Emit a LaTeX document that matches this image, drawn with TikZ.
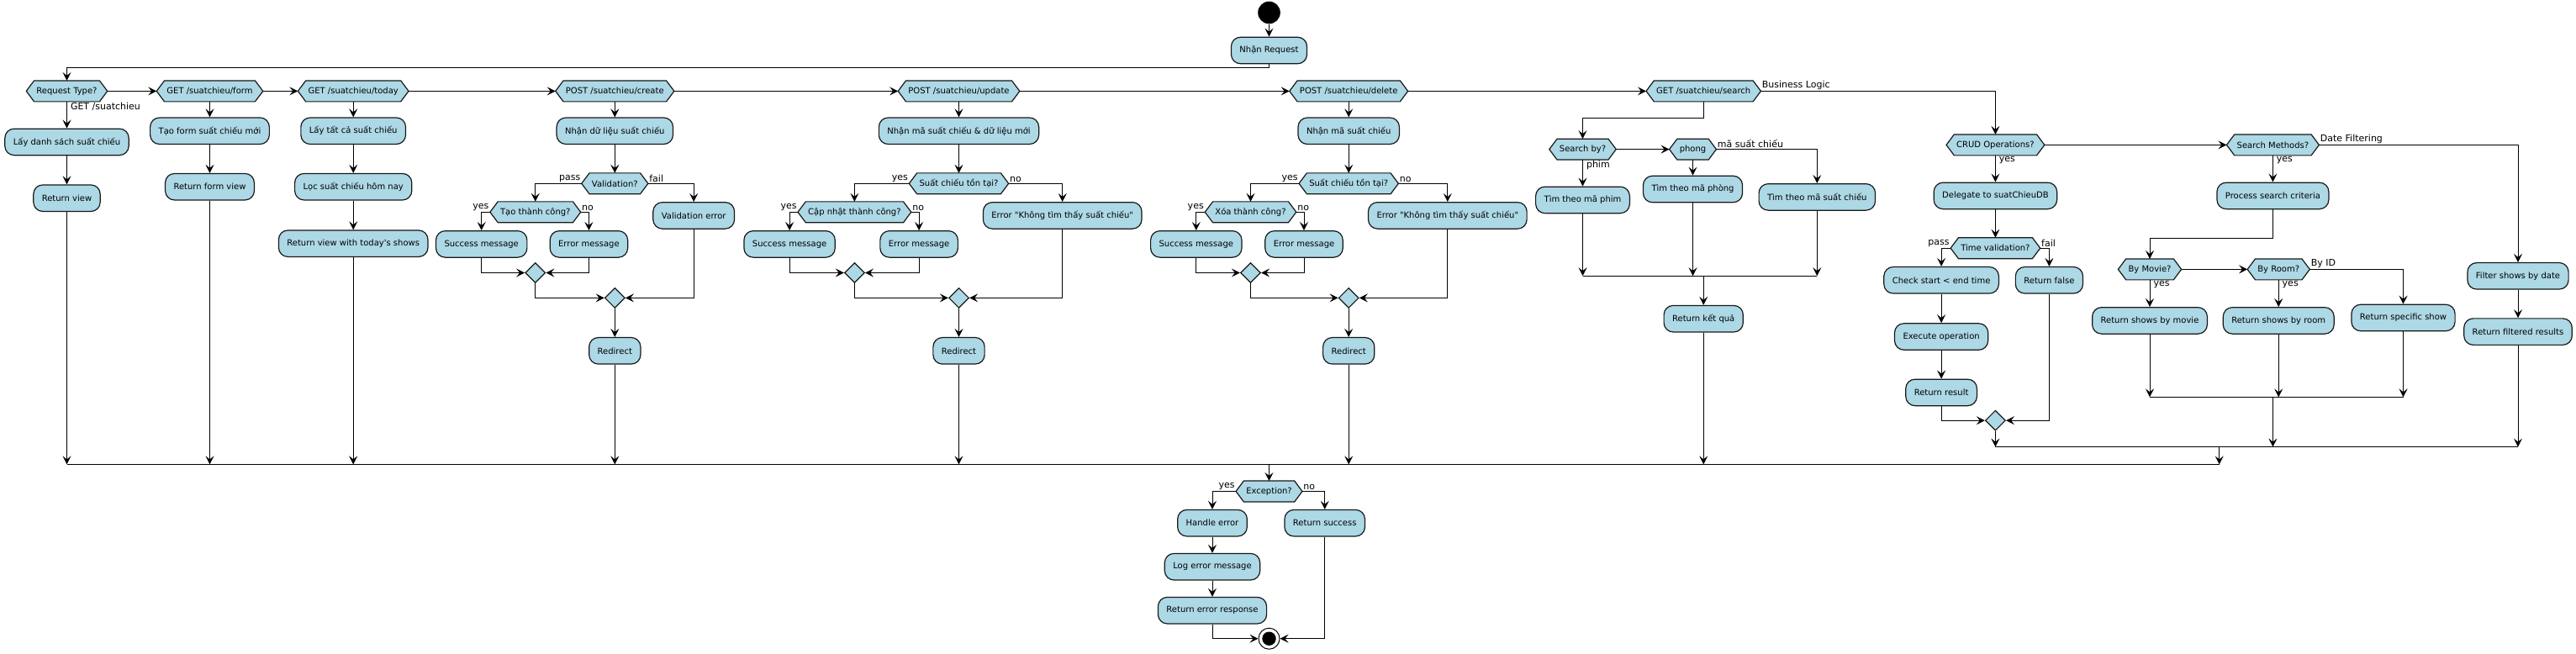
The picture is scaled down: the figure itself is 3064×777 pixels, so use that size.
\documentclass[tikz,border=0pt]{standalone}
\usepackage{fontspec}
\setmainfont{DejaVu Sans}[Ligatures=TeXOff]
\usetikzlibrary{arrows.meta,shapes.geometric,backgrounds,calc}
\definecolor{boxfill}{HTML}{ADD8E6}
\definecolor{boxline}{HTML}{181818}
\tikzset{
 act/.style={draw=boxline, fill=boxfill, line width=1.2pt, rounded corners=11pt, inner xsep=10pt, inner ysep=0pt, minimum height=31.5pt, font=\fontsize{10}{12}\selectfont},
 hextxt/.style={inner xsep=12pt, inner ysep=0pt, minimum height=24.5pt, font=\fontsize{10}{12}\selectfont},
 hexline/.style={draw=boxline, fill=boxfill, line width=1.2pt},
 mrg/.style={diamond, aspect=1, draw=boxline, fill=boxfill, line width=1.2pt, minimum width=24pt, minimum height=24pt, inner sep=0pt},
 arr/.style={draw=black, line width=1pt, -{Stealth[length=10pt,width=10pt,inset=4pt]}},
 ln/.style={draw=black, line width=1pt},
 lbl/.style={font=\fontsize{11}{13}\selectfont, inner sep=1pt},
}
\newcommand\hexn[4]{%
 \node[hextxt] (#1) at (#2,#3) {#4};
 \begin{scope}[on background layer]
 \path[hexline] (#1.west) -- ([xshift=9.3pt]#1.north west) -- ([xshift=-9.3pt]#1.north east) -- (#1.east) -- ([xshift=-9.3pt]#1.south east) -- ([xshift=9.3pt]#1.south west) -- cycle;
 \end{scope}}
\begin{document}
\begin{tikzpicture}[x=1pt,y=-1pt]
\useasboundingbox (0,0) rectangle (3064,777);
% start
\node[circle, fill=black, minimum size=26.6pt, inner sep=0pt] (st) at (1509.5,15) {};
\node[act] (nr) at (1509.5,60) {Nhận Request};
% hex row
\hexn{rt}{79.5}{108.4}{Request Type?}
\hexn{gf}{249.5}{108.4}{GET /suatchieu/form}
\hexn{gt}{420.2}{108.4}{GET /suatchieu/today}
\hexn{pc}{731.3}{108.4}{POST /suatchieu/create}
\hexn{pu}{1140.5}{108.4}{POST /suatchieu/update}
\hexn{pd}{1604.2}{108.4}{POST /suatchieu/delete}
\hexn{gs}{2026.2}{108.4}{GET /suatchieu/search}
% col A
\node[act] (lds) at (79.5,168.9) {Lấy danh sách suất chiếu};
\node[act] (rv) at (79.5,235.7) {Return view};
% col B
\node[act] (tf) at (249.5,155.75) {Tạo form suất chiếu mới};
\node[act] (rfv) at (249.5,222.2) {Return form view};
% col C
\node[act] (lt) at (420.2,155.75) {Lấy tất cả suất chiếu};
\node[act] (loc) at (420.2,222.2) {Lọc suất chiếu hôm nay};
\node[act] (rvt) at (420.2,289.7) {Return view with today's shows};
% col D
\node[act] (nd) at (731.3,155.75) {Nhận dữ liệu suất chiếu};
\hexn{val}{731.3}{218.3}{Validation?}
\hexn{ttc}{636.8}{252.3}{Tạo thành công?}
\node[act] (sm1) at (572.7,290.4) {Success message};
\node[act] (em1) at (700.4,290.4) {Error message};
\node[act] (ve) at (825.2,256.4) {Validation error};
\node[mrg] (sd1) at (636.8,324.5) {};
\node[mrg] (bd1) at (731.3,354.4) {};
\node[act] (red1) at (731.3,417.3) {Redirect};
% col E
\node[act] (nm2) at (1140.5,155.75) {Nhận mã suất chiếu \& dữ liệu mới};
\hexn{sct1}{1140.5}{218.3}{Suất chiếu tồn tại?}
\hexn{cn}{1016.4}{252.3}{Cập nhật thành công?}
\node[act] (sm2) at (939.1,290.4) {Success message};
\node[act] (em2) at (1093.1,290.4) {Error message};
\node[act] (ek1) at (1263.7,256.4) {Error "Không tìm thấy suất chiếu"};
\node[mrg] (sd2) at (1016.4,324.5) {};
\node[mrg] (bd2) at (1140.5,354.4) {};
\node[act] (red2) at (1140.5,417.3) {Redirect};
% col F
\node[act] (nm3) at (1604.2,155.75) {Nhận mã suất chiếu};
\hexn{sct2}{1604.2}{218.3}{Suất chiếu tồn tại?}
\hexn{xoa}{1487.5}{252.3}{Xóa thành công?}
\node[act] (sm3) at (1422.8,290.4) {Success message};
\node[act] (em3) at (1551,290.4) {Error message};
\node[act] (ek2) at (1721.8,256.4) {Error "Không tìm thấy suất chiếu"};
\node[mrg] (sd3) at (1487.5,324.5) {};
\node[mrg] (bd3) at (1604.2,354.4) {};
\node[act] (red3) at (1604.2,417.3) {Redirect};
% col G
\hexn{sb}{1882.5}{177.6}{Search by?}
\hexn{ph}{2013.5}{177.6}{phong}
\node[act] (tmp) at (1882.5,237.9) {Tìm theo mã phim};
\node[act] (tmph) at (2013.5,225) {Tìm theo mã phòng};
\node[act] (tmsc) at (2161.3,234.4) {Tìm theo mã suất chiếu};
\node[act] (rkq) at (2026.2,379.2) {Return kết quả};
% col H
\hexn{crud}{2373.4}{172.4}{CRUD Operations?}
\node[act] (del) at (2373.4,232.9) {Delegate to suatChieuDB};
\hexn{tv}{2373.4}{295.2}{Time validation?}
\node[act] (csa) at (2309.1,333.3) {Check start < end time};
\node[act] (exe) at (2309.1,400.5) {Execute operation};
\node[act] (rr) at (2309.1,466.9) {Return result};
\node[act] (rf) at (2437.4,333.3) {Return false};
\node[mrg] (sd4) at (2373.4,500.2) {};
% col I
\hexn{smh}{2703.4}{172.4}{Search Methods?}
\node[act] (psc) at (2703.4,232.9) {Process search criteria};
\hexn{bm}{2557}{320.4}{By Movie?}
\hexn{br}{2710.2}{320.4}{By Room?}
\node[act] (rsm) at (2557,381.4) {Return shows by movie};
\node[act] (rsr) at (2710.2,381.4) {Return shows by room};
\node[act] (rss) at (2858.5,378) {Return specific show};
\node[act] (fsd) at (2995,328.3) {Filter shows by date};
\node[act] (rfr) at (2995,394.6) {Return filtered results};
% bottom
\hexn{exc}{1509.5}{584.5}{Exception?}
\node[act] (he) at (1442,622.2) {Handle error};
\node[act] (lem) at (1442,674.2) {Log error message};
\node[act] (rer) at (1442,726.2) {Return error response};
\node[act] (rs) at (1575.7,622.2) {Return success};
\node[circle, draw=black, fill=white, line width=1pt, minimum size=25pt, inner sep=0pt] (en) at (1509.5,759.7) {};
\fill[black] (en.center) circle[radius=8.2pt];
% coordinates
\coordinate (tb) at (1509.5,80.5);
\coordinate (gsk) at (2026.2,140.2);
\coordinate (psk) at (2703.4,283.8);
\coordinate (m1) at (79.5,552.4);
\coordinate (m2) at (249.5,552.4);
\coordinate (m3) at (420.2,552.4);
\coordinate (m4) at (731.3,552.4);
\coordinate (m5) at (1140.5,552.4);
\coordinate (m6) at (1604.2,552.4);
\coordinate (m7) at (2026.2,552.4);
\coordinate (m8) at (2639.7,552.4);
\coordinate (mx) at (1509.5,552.4);
\coordinate (s1) at (1882.5,328.2);
\coordinate (s2) at (2013.5,328.2);
\coordinate (s3) at (2161.3,328.2);
\coordinate (s0) at (2026.2,328.2);
\coordinate (b1) at (2557,472.4);
\coordinate (b2) at (2710.2,472.4);
\coordinate (b3) at (2858.5,472.4);
\coordinate (b0) at (2703.4,472.4);
\coordinate (c1) at (2373.4,531.6);
\coordinate (c2) at (2703.4,531.6);
\coordinate (c3) at (2995,531.6);
\coordinate (c0) at (2639.7,531.6);
% edges top
\draw[arr] (st) -- (nr);
\draw[arr] (nr.south) -- (tb) -| (rt.north);
\draw[arr] (rt.east) -- (gf.west);
\draw[arr] (gf.east) -- (gt.west);
\draw[arr] (gt.east) -- (pc.west);
\draw[arr] (pc.east) -- (pu.west);
\draw[arr] (pu.east) -- (pd.west);
\draw[arr] (pd.east) -- (gs.west);
\draw[arr] (gs.east) -| (crud.north) node[pos=0, lbl, anchor=south west] {Business Logic};
% col A
\draw[arr] (rt.south) -- (lds.north) node[pos=0, lbl, anchor=north west, xshift=3pt] {GET /suatchieu};
\draw[arr] (lds) -- (rv);
\draw[arr] (rv) -- (m1);
% col B
\draw[arr] (gf) -- (tf);
\draw[arr] (tf) -- (rfv);
\draw[arr] (rfv) -- (m2);
% col C
\draw[arr] (gt) -- (lt);
\draw[arr] (lt) -- (loc);
\draw[arr] (loc) -- (rvt);
\draw[arr] (rvt) -- (m3);
% col D
\draw[arr] (pc) -- (nd);
\draw[arr] (nd) -- (val);
\draw[arr] (val.west) -| (ttc.north) node[pos=0, lbl, anchor=south east] {pass};
\draw[arr] (val.east) -| (ve.north) node[pos=0, lbl, anchor=south west] {fail};
\draw[arr] (ttc.west) -| (sm1.north) node[pos=0, lbl, anchor=south east] {yes};
\draw[arr] (ttc.east) -| (em1.north) node[pos=0, lbl, anchor=south west] {no};
\draw[arr] (sm1.south) |- (sd1.west);
\draw[arr] (em1.south) |- (sd1.east);
\draw[arr] (sd1.south) |- (bd1.west);
\draw[arr] (ve.south) |- (bd1.east);
\draw[arr] (bd1) -- (red1);
\draw[arr] (red1) -- (m4);
% col E
\draw[arr] (pu) -- (nm2);
\draw[arr] (nm2) -- (sct1);
\draw[arr] (sct1.west) -| (cn.north) node[pos=0, lbl, anchor=south east] {yes};
\draw[arr] (sct1.east) -| (ek1.north) node[pos=0, lbl, anchor=south west] {no};
\draw[arr] (cn.west) -| (sm2.north) node[pos=0, lbl, anchor=south east] {yes};
\draw[arr] (cn.east) -| (em2.north) node[pos=0, lbl, anchor=south west] {no};
\draw[arr] (sm2.south) |- (sd2.west);
\draw[arr] (em2.south) |- (sd2.east);
\draw[arr] (sd2.south) |- (bd2.west);
\draw[arr] (ek1.south) |- (bd2.east);
\draw[arr] (bd2) -- (red2);
\draw[arr] (red2) -- (m5);
% col F
\draw[arr] (pd) -- (nm3);
\draw[arr] (nm3) -- (sct2);
\draw[arr] (sct2.west) -| (xoa.north) node[pos=0, lbl, anchor=south east] {yes};
\draw[arr] (sct2.east) -| (ek2.north) node[pos=0, lbl, anchor=south west] {no};
\draw[arr] (xoa.west) -| (sm3.north) node[pos=0, lbl, anchor=south east] {yes};
\draw[arr] (xoa.east) -| (em3.north) node[pos=0, lbl, anchor=south west] {no};
\draw[arr] (sm3.south) |- (sd3.west);
\draw[arr] (em3.south) |- (sd3.east);
\draw[arr] (sd3.south) |- (bd3.west);
\draw[arr] (ek2.south) |- (bd3.east);
\draw[arr] (bd3) -- (red3);
\draw[arr] (red3) -- (m6);
% col G
\draw[arr] (gs.south) -- (gsk) -| (sb.north);
\draw[arr] (sb.south) -- (tmp.north) node[pos=0, lbl, anchor=north west, xshift=3pt] {phim};
\draw[arr] (sb.east) -- (ph.west);
\draw[arr] (ph) -- (tmph);
\draw[arr] (ph.east) -| (tmsc.north) node[pos=0, lbl, anchor=south west] {mã suất chiếu};
\draw[arr] (tmp) -- (s1);
\draw[arr] (tmph) -- (s2);
\draw[arr] (tmsc) -- (s3);
\draw[ln] (s1) -- (s3);
\draw[arr] (s0) -- (rkq);
\draw[arr] (rkq) -- (m7);
% col H
\draw[arr] (crud.south) -- (del.north) node[pos=0, lbl, anchor=north west, xshift=3pt] {yes};
\draw[arr] (crud.east) -- (smh.west);
\draw[arr] (del) -- (tv);
\draw[arr] (tv.west) -| (csa.north) node[pos=0, lbl, anchor=south east] {pass};
\draw[arr] (tv.east) -| (rf.north) node[pos=0, lbl, anchor=south west] {fail};
\draw[arr] (csa) -- (exe);
\draw[arr] (exe) -- (rr);
\draw[arr] (rr.south) |- (sd4.west);
\draw[arr] (rf.south) |- (sd4.east);
\draw[arr] (sd4) -- (c1);
% col I
\draw[arr] (smh.south) -- (psc.north) node[pos=0, lbl, anchor=north west, xshift=3pt] {yes};
\draw[arr] (smh.east) -| (fsd.north) node[pos=0, lbl, anchor=south west] {Date Filtering};
\draw[arr] (psc.south) -- (psk) -| (bm.north);
\draw[arr] (bm.south) -- (rsm.north) node[pos=0, lbl, anchor=north west, xshift=3pt] {yes};
\draw[arr] (bm.east) -- (br.west);
\draw[arr] (br.south) -- (rsr.north) node[pos=0, lbl, anchor=north west, xshift=3pt] {yes};
\draw[arr] (br.east) -| (rss.north) node[pos=0, lbl, anchor=south west] {By ID};
\draw[arr] (rsm) -- (b1);
\draw[arr] (rsr) -- (b2);
\draw[arr] (rss) -- (b3);
\draw[ln] (b1) -- (b3);
\draw[arr] (b0) -- (c2);
\draw[arr] (fsd) -- (rfr);
\draw[arr] (rfr) -- (c3);
\draw[ln] (c1) -- (c3);
\draw[arr] (c0) -- (m8);
% main merge
\draw[ln] (m1) -- (m8);
\draw[arr] (mx) -- (exc.north);
% bottom
\draw[arr] (exc.west) -| (he.north) node[pos=0, lbl, anchor=south east] {yes};
\draw[arr] (exc.east) -| (rs.north) node[pos=0, lbl, anchor=south west] {no};
\draw[arr] (he) -- (lem);
\draw[arr] (lem) -- (rer);
\draw[arr] (rer.south) |- (en.west);
\draw[arr] (rs.south) |- (en.east);
\end{tikzpicture}
\end{document}
